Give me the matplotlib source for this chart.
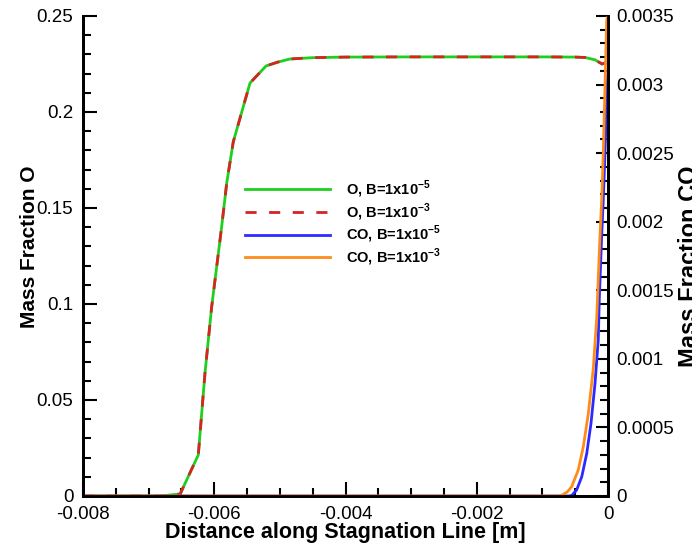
import numpy as np
import matplotlib
matplotlib.use('Agg')
import matplotlib.pyplot as plt
from matplotlib.ticker import MultipleLocator, FuncFormatter

plt.rcParams['font.family'] = ['Liberation Sans', 'DejaVu Sans']
plt.rcParams['axes.unicode_minus'] = False
plt.rcParams['mathtext.fontset'] = 'custom'
plt.rcParams['mathtext.rm'] = 'Liberation Sans'
plt.rcParams['mathtext.bf'] = 'Liberation Sans:bold'

# Mass fraction O along the stagnation line (both B values overlap)
x_O = [-0.008, -0.0068, -0.00663, -0.00652, -0.006243, -0.006141, -0.006039,
       -0.005963, -0.005887, -0.00581, -0.00571, -0.005455, -0.00521, -0.00503,
       -0.00485, -0.0045, -0.004, -0.003, -0.002, -0.001, -0.0005, -0.00035,
       -0.0002, -0.00009, -0.00004]
y_O = [0.0, 0.0, 0.0007, 0.001, 0.0214, 0.0641, 0.0986,
       0.1194, 0.1403, 0.163, 0.1845, 0.2151, 0.2240, 0.2260,
       0.2276, 0.2283, 0.2286, 0.2287, 0.2287, 0.2287, 0.2286, 0.2284,
       0.2272, 0.2250, 0.2256]

# Mass fraction CO near the wall
x_CO5 = [-0.008, -0.0006, -0.00055, -0.000478, -0.0004, -0.000324, -0.000259,
         -0.000198, -0.000148, -0.000133, -0.000096, -0.000072, -0.000046,
         -0.00002, 0.0]
y_CO5 = [0.0, 0.0, 0.000005, 0.000044, 0.00014, 0.00031, 0.00053,
         0.00082, 0.00114, 0.00143, 0.0019, 0.00216, 0.0025,
         0.0029, 0.0031]
x_CO3 = [-0.008, -0.00075, -0.000706, -0.00062, -0.000554, -0.000453, -0.000376,
         -0.0003, -0.000224, -0.000172, -0.000122, -0.000096, -0.000072,
         -0.000046, -0.00002, 0.0]
y_CO3 = [0.0, 0.0, 0.000005, 0.00003, 0.000068, 0.00019, 0.00036,
         0.0006, 0.00093, 0.0013, 0.0019, 0.00216, 0.0025,
         0.00298, 0.00347, 0.0035]

labels = [r'O, B=1x10$^{\mathbf{-5}}$', r'O, B=1x10$^{\mathbf{-3}}$',
          r'CO, B=1x10$^{\mathbf{-5}}$', r'CO, B=1x10$^{\mathbf{-3}}$']

fmt = FuncFormatter(lambda v, p: '%g' % round(v, 6))

fig = plt.figure(figsize=(6.92, 5.47), dpi=100)
ax = fig.add_axes([83/692, 51/547, 525/692, 480/547])
ax2 = ax.twinx()

l1, = ax.plot(x_O, y_O, color='#1ecf1e', lw=2.0, zorder=3)
l2, = ax.plot(x_O, y_O, color='#d42424', lw=2.0, ls=(0, (4, 4.5)), zorder=4)
l3, = ax2.plot(x_CO5, y_CO5, color='#2b2bff', lw=2.0)
l4, = ax2.plot(x_CO3, y_CO3, color='#ff8c1a', lw=2.0)

ax.set_xlim(-0.008, 0)
ax.set_ylim(0, 0.25)
ax2.set_ylim(0, 0.0035)

ax.xaxis.set_major_locator(MultipleLocator(0.002))
ax.xaxis.set_minor_locator(MultipleLocator(0.0005))
ax.yaxis.set_major_locator(MultipleLocator(0.05))
ax.yaxis.set_minor_locator(MultipleLocator(0.01))
ax2.yaxis.set_major_locator(MultipleLocator(0.0005))
ax2.yaxis.set_minor_locator(MultipleLocator(0.0001))
for a in (ax.xaxis, ax.yaxis, ax2.yaxis):
    a.set_major_formatter(fmt)

for a in (ax, ax2):
    a.spines['top'].set_visible(False)
    for s in a.spines.values():
        s.set_linewidth(2)
ax.tick_params(which='both', direction='in', top=False, right=False,
               labelsize=13.5, width=1.5, pad=7)
ax.tick_params(which='major', length=10)
ax.tick_params(which='minor', length=6)
ax2.tick_params(which='both', direction='in', labelsize=13.5, width=1.5, pad=6)
ax2.tick_params(which='major', length=9)
ax2.tick_params(which='minor', length=6)

ax.set_xlabel('Distance along Stagnation Line [m]', fontsize=15.5,
              fontweight='bold')
ax.xaxis.set_label_coords(0.5, -0.054)
ax.set_ylabel('Mass Fraction O', fontsize=15, fontweight='bold')
ax.yaxis.set_label_coords(-0.084, 0.52)
ax2.set_ylabel('Mass Fraction CO', fontsize=17, fontweight='bold')
ax2.yaxis.set_label_coords(1.133, 0.479)

leg = ax.legend([l1, l2, l3, l4], labels, loc='upper left',
                bbox_to_anchor=(0.309, 0.661), frameon=False, borderpad=0,
                borderaxespad=0, handlelength=5.8, handletextpad=1.1,
                labelspacing=0.09, prop={'size': 10.5, 'weight': 'bold'})

fig.savefig('out.png', dpi=100)
